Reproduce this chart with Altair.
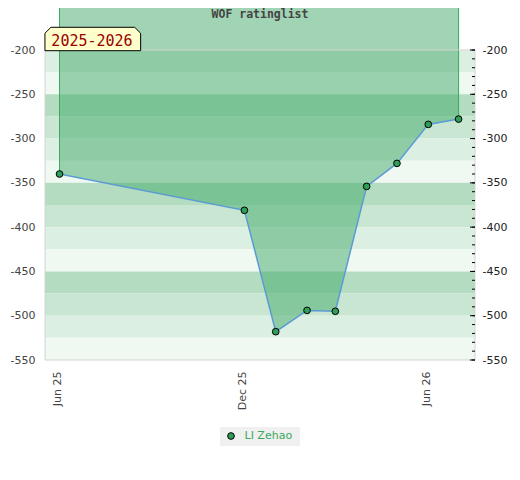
import altair as alt
import pandas as pd

# ---- data ----
dates = ["2025-06-01", "2025-12-01", "2026-01-01", "2026-02-01", "2026-03-01",
         "2026-04-01", "2026-05-01", "2026-06-01", "2026-07-01"]
ratings = [-340, -381, -518, -494, -495, -354, -328, -284, -278]
player = "LI Zehao"

band_top = [-200, -225, -250, -275, -300, -325, -350, -375, -400, -425, -450, -475, -500, -525]
band_bottom = [-225, -250, -275, -300, -325, -350, -375, -400, -425, -450, -475, -500, -525, -550]
band_shade = [0, 1, 2, 3, 0, 1, 2, 3, 0, 1, 2, 3, 0, 1]
band_colors = ["#dcefe3", "#f0f8f2", "#b3dcc0", "#c8e6d2"]

y_labels = [-200, -250, -300, -350, -400, -450, -500, -550]
y_minor = [-200, -210, -220, -230, -240, -250, -260, -270, -280, -290, -300, -310,
           -320, -330, -340, -350, -360, -370, -380, -390, -400, -410, -420, -430,
           -440, -450, -460, -470, -480, -490, -500, -510, -520, -530, -540, -550]

title_text = "WOF ratinglist"
season_text = "2025-2026"

df = pd.DataFrame({"date": dates, "rating": ratings, "player": player})
df_edges = df.iloc[[0, -1]]
df_bands = pd.DataFrame({"top": band_top, "bottom": band_bottom, "shade": band_shade})
df_minor = pd.DataFrame({"v": y_minor})
df_major = pd.DataFrame({"v": y_labels})
dummy = pd.DataFrame({"a": [0]})

W, H = 430, 310

yscale = alt.Scale(domain=[-550, -200], nice=False, zero=False)
xscale = alt.Scale(type="utc", domain=[
    alt.DateTime(year=2025, month=5, date=17, hours=15, utc=True),
    alt.DateTime(year=2026, month=7, date=17, hours=6, utc=True)])

x_axis = alt.Axis(
    values=[alt.DateTime(year=2025, month=6, date=1, utc=True),
            alt.DateTime(year=2025, month=12, date=1, utc=True),
            alt.DateTime(year=2026, month=6, date=1, utc=True)],
    labelExpr="utcFormat(datum.value, '%b %y')", labelAngle=270, ticks=False,
    domain=False, grid=False, labelPadding=11, labelOffset=-2, title=None,
    labelFont="DejaVu Sans", labelFontSize=11, labelColor="#444444")

hyphen = "datum.value < 0 ? '-' + abs(datum.value) : '' + datum.value"

left_axis = alt.Axis(orient="left", values=y_labels, ticks=False, domain=False,
                     grid=False, labelPadding=10, title=None, labelFont="DejaVu Sans",
                     labelFontSize=11, labelColor="#444444", labelExpr=hyphen)
right_axis = alt.Axis(orient="right", values=y_labels, ticks=False, domain=False,
                      grid=False, labelPadding=7, title=None, labelFont="DejaVu Sans",
                      labelFontSize=11, labelColor="#222222", labelExpr=hyphen)

bands = alt.Chart(df_bands).mark_rect().encode(
    y=alt.Y("top:Q", scale=yscale, axis=left_axis),
    y2="bottom:Q",
    x=alt.value(0), x2=alt.value(W),
    fill=alt.Fill("shade:O", scale=alt.Scale(domain=[0, 1, 2, 3], range=band_colors), legend=None),
)

area = alt.Chart(df).mark_area(color="#41a969", opacity=0.5).encode(
    x=alt.X("date:T", scale=xscale, axis=x_axis),
    y=alt.Y("rating:Q", scale=yscale, axis=None),
    y2=alt.value(-42),
)

edges = alt.Chart(df_edges).mark_rule(color="#3aaa5a", strokeWidth=1).encode(
    x="date:T",
    y=alt.Y("rating:Q", axis=None),
    y2=alt.value(-42),
)

border = alt.Chart(dummy).mark_rect(fillOpacity=0, stroke="#d4d4d4", strokeWidth=1).encode(
    x=alt.value(0), x2=alt.value(W), y=alt.value(0), y2=alt.value(H))

line = alt.Chart(df).mark_line(color="#5b9bd5", strokeWidth=1.5).encode(
    x="date:T",
    y=alt.Y("rating:Q", axis=None),
)

points = alt.Chart(df).mark_point(filled=True, size=45, stroke="black",
                                  strokeWidth=1, opacity=1).encode(
    x="date:T",
    y=alt.Y("rating:Q", axis=None),
    color=alt.Color("player:N", scale=alt.Scale(range=["#2f9e57"]),
                    legend=alt.Legend(orient="none", legendX=180.5, legendY=380.5,
                                      title=None, labelColor="#3aaa5a",
                                      labelFont="DejaVu Sans", labelFontSize=11,
                                      symbolType="circle", symbolSize=45,
                                      symbolStrokeColor="black", symbolStrokeWidth=1,
                                      padding=0, labelOffset=8)),
)

minor = alt.Chart(df_minor).mark_rule(color="black").encode(
    y=alt.Y("v:Q", scale=yscale, axis=right_axis),
    x=alt.value(W - 3), x2=alt.value(W),
)
major = alt.Chart(df_major).mark_rule(color="black").encode(
    y=alt.Y("v:Q", axis=None),
    x=alt.value(W - 5), x2=alt.value(W),
)

legend_bg = alt.Chart(dummy).mark_rect(color="#f0f0f0").encode(
    x=alt.value(175), x2=alt.value(255), y=alt.value(377), y2=alt.value(396))

title = alt.Chart(dummy).mark_text(text=title_text, font="DejaVu Sans Mono",
                                   fontWeight="bold", fontSize=11.5, color="#444444",
                                   align="center", baseline="middle").encode(
    x=alt.value(W / 2), y=alt.value(-35))

season_box = alt.Chart(dummy).mark_point(
    shape="M -1 0.2445 L -1 -0.12 L -0.875 -0.2445 L 0.875 -0.2445 L 1 -0.12 L 1 0.2445 Z",
    size=9158, filled=True, fill="#ffffcc", stroke="black", strokeWidth=1, opacity=1).encode(
    x=alt.value(47.8), y=alt.value(-11))

season = alt.Chart(dummy).mark_text(text=season_text, font="DejaVu Sans Mono",
                                    fontSize=15, color="#990000", align="center",
                                    baseline="alphabetic").encode(
    x=alt.value(47), y=alt.value(-4))

chart = alt.layer(
    bands, area, edges, border, line, points, minor, major, legend_bg, title,
    season_box, season
).resolve_axis(y="independent").properties(
    width=W, height=H,
    autosize=alt.AutoSizeParams(type="none"),
    padding={"left": 37, "top": 42, "right": 37, "bottom": 112},
).configure_view(stroke=None)

chart.save("out.html", embed_options={"renderer": "svg", "actions": False})
